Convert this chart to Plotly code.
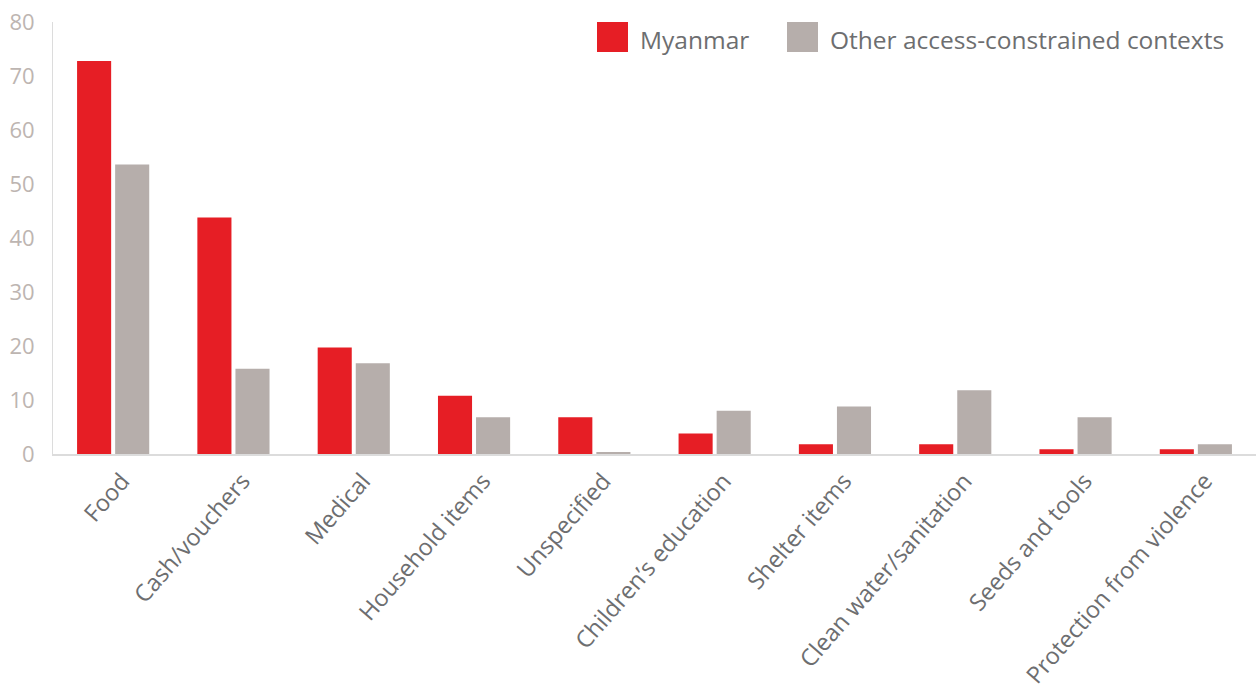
import plotly.graph_objects as go

categories = ["Food", "Cash/vouchers", "Medical", "Household items", "Unspecified",
              "Children’s education", "Shelter items", "Clean water/sanitation",
              "Seeds and tools", "Protection from violence"]
myanmar = [72.8, 43.8, 19.7, 10.8, 6.8, 3.8, 1.8, 1.8, 0.9, 0.9]
other = [53.6, 15.8, 16.8, 6.8, 0.2, 8, 8.8, 11.8, 6.8, 1.8]
y_ticks = [0, 10, 20, 30, 40, 50, 60, 70, 80]
series_names = ["Myanmar", "Other access-constrained contexts"]

RED = "#e61e25"
GREY = "#b6aeab"
TEXT = "#6d6e70"
TICK = "#bdb5b1"
FONT = "Open Sans"

W, H = 1256, 691
L, T, B, R = 53, 22, 237, 0

fig = go.Figure()
fig.add_trace(go.Bar(x=categories, y=myanmar, name=series_names[0],
                     marker=dict(color=RED, line=dict(width=0))))
fig.add_trace(go.Bar(x=categories, y=other, name=series_names[1],
                     marker=dict(color=GREY, line=dict(width=0))))

# legend drawn as large swatches + labels
pw, ph = W - L - R, H - T - B
def px(x):
    return (x - L) / pw
def py(y):
    return (H - B - y) / ph

shapes = []
annotations = []
for name, color, x0 in [(series_names[0], RED, 597), (series_names[1], GREY, 787)]:
    shapes.append(dict(type="rect", xref="paper", yref="paper",
                       x0=px(x0), x1=px(x0 + 31), y0=py(52), y1=py(22),
                       fillcolor=color, line=dict(width=0)))
    annotations.append(dict(xref="paper", yref="paper", x=px(x0 + 41), y=py(39),
                            xanchor="left", yanchor="middle", showarrow=False,
                            text=name, font=dict(family=FONT, size=24.5, color=TEXT)))

fig.update_layout(
    width=W, height=H,
    margin=dict(l=L, r=R, t=T, b=B),
    paper_bgcolor="white", plot_bgcolor="white",
    barmode="group", bargap=0.367, bargroupgap=0.105,
    showlegend=False,
    shapes=shapes, annotations=annotations,
    font=dict(family=FONT, color=TEXT),
    xaxis=dict(tickangle=-49, tickfont=dict(family=FONT, size=23.5, color=TEXT),
               showline=True, linecolor="#dcdcdc", linewidth=2,
               showgrid=False, ticks="", automargin=False,
               ticklabelshift=9, ticklabelstandoff=2),
    yaxis=dict(range=[0, 80], tickvals=y_ticks, showgrid=False, zeroline=False,
               showline=True, linecolor="#dcdcdc", linewidth=1,
               tickfont=dict(family=FONT, size=22, color=TICK),
               ticks="", ticklabelstandoff=13, automargin=False),
)

fig.write_html("out.html")
